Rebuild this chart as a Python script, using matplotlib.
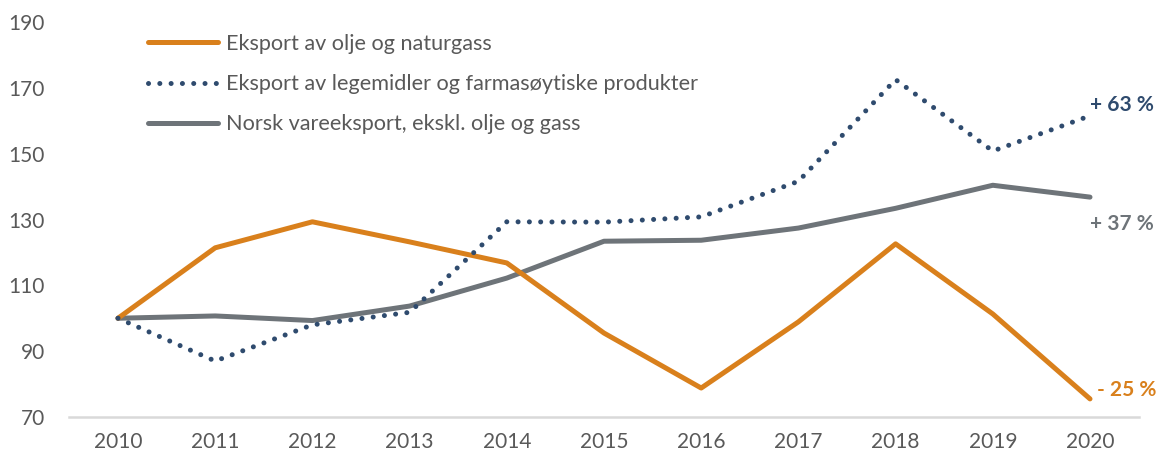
import matplotlib
matplotlib.use("Agg")
import matplotlib.pyplot as plt
from matplotlib.lines import Line2D

years = ["2010", "2011", "2012", "2013", "2014", "2015", "2016", "2017", "2018", "2019", "2020"]
olje_gass = [100, 121.4, 129.3, 123.2, 116.8, 95.5, 78.8, 98.9, 122.6, 101.3, 75.5]
legemidler = [100, 87.0, 98.0, 101.8, 129.3, 129.2, 130.8, 141.6, 172.5, 150.8, 161.5]
vareeksport = [100, 100.7, 99.3, 103.7, 112.2, 123.4, 123.7, 127.4, 133.4, 140.4, 136.8]
labels = ["Eksport av olje og naturgass",
          "Eksport av legemidler og farmasøytiske produkter",
          "Norsk vareeksport, ekskl. olje og gass"]
end_labels = ["- 25 %", "+ 63 %", "+ 37 %"]
yticks = [70, 90, 110, 130, 150, 170, 190]

c_orange = "#D9801C"
c_blue = "#2F4B6E"
c_gray = "#6E7479"
c_text = "#595959"
FS = 15

plt.rcParams['font.family'] = ['Lato', 'DejaVu Sans']

W, H = 1161, 455
fig = plt.figure(figsize=(W / 100, H / 100), dpi=100)
ax = fig.add_axes([69.4 / W, 1 - 417 / H, (1138.6 - 69.4) / W, (417 - 22) / H])

x = list(range(len(years)))
ax.plot(x, olje_gass, color=c_orange, lw=3.6, solid_capstyle='round', zorder=3)
ax.plot(x, legemidler, color=c_blue, lw=3.6, linestyle=(0, (0.01, 2.25)), dash_capstyle='round', zorder=3)
ax.plot(x, vareeksport, color=c_gray, lw=3.6, solid_capstyle='round', zorder=2)

ax.set_xlim(-0.5, len(years) - 0.5)
ax.set_ylim(70, 190)
ax.set_xticks(x)
ax.set_xticklabels(years)
ax.set_yticks(yticks)
ax.tick_params(axis='both', length=0, labelsize=FS, colors=c_text)
ax.tick_params(axis='x', pad=11)
ax.tick_params(axis='y', pad=17.5)
for s in ["top", "right", "left"]:
    ax.spines[s].set_visible(False)
ax.spines["bottom"].set_color("#D9D9D9")
ax.spines["bottom"].set_linewidth(1.8)

# end labels
ax.annotate(end_labels[0], (x[-1], olje_gass[-1]), xytext=(5, 6.5), textcoords='offset points',
            color=c_orange, fontsize=FS, fontweight='bold', va='center', ha='left')
ax.annotate(end_labels[1], (x[-1], legemidler[-1]), xytext=(0, 8), textcoords='offset points',
            color=c_blue, fontsize=FS, fontweight='bold', va='center', ha='left')
ax.annotate(end_labels[2], (x[-1], vareeksport[-1]), xytext=(0, -19), textcoords='offset points',
            color=c_gray, fontsize=FS, fontweight='bold', va='center', ha='left')

handles = [
    Line2D([], [], color=c_orange, lw=3.6, solid_capstyle='round'),
    Line2D([], [], color=c_blue, lw=3.6, linestyle=(0, (0.01, 2.25)), dash_capstyle='round'),
    Line2D([], [], color=c_gray, lw=3.6, solid_capstyle='round'),
]
leg = ax.legend(handles, labels, loc='upper left', bbox_to_anchor=(148 / W, 1 - 34 / H),
                bbox_transform=fig.transFigure, frameon=False, fontsize=15.6,
                handlelength=3.25, handletextpad=0.35, labelspacing=0.93, borderaxespad=0,
                borderpad=0)
for t in leg.get_texts():
    t.set_color(c_text)

fig.savefig("out.png", dpi=100)
